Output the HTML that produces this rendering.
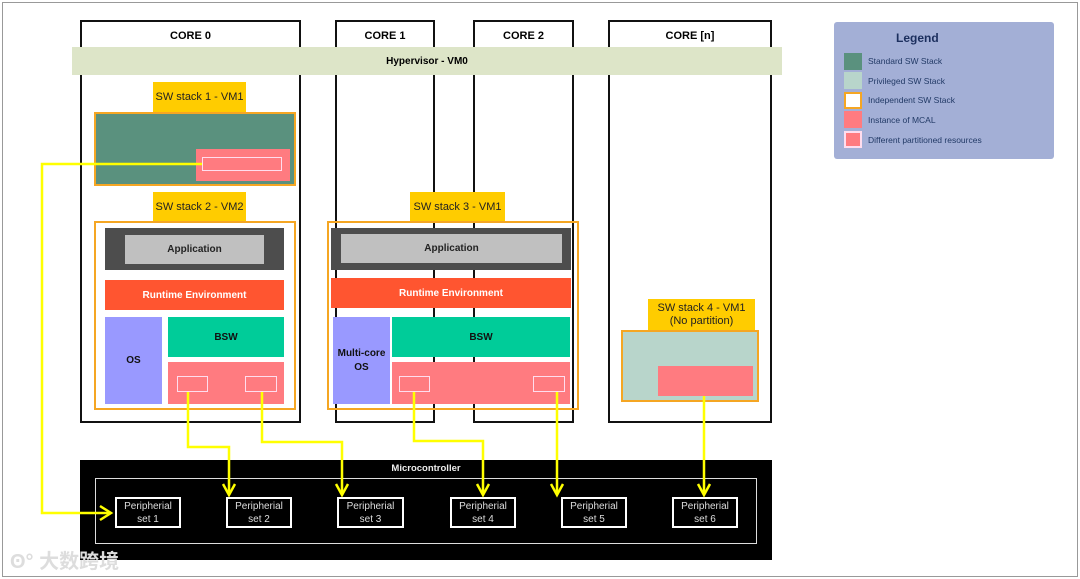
<!DOCTYPE html>
<html><head><meta charset="utf-8"><style>
body{margin:0;width:1080px;height:579px;background:#fff;position:relative;overflow:hidden;font-family:"Liberation Sans","Noto Sans CJK SC",sans-serif}
div{position:absolute;box-sizing:border-box}
.c{display:flex;align-items:center;justify-content:center;text-align:center}
.core{border:2px solid #111;border-bottom-width:2px;background:transparent;font-weight:bold;font-size:11px;justify-content:center}
.core span{position:absolute;top:8px;left:0;right:0;text-align:center}
.lab{background:#ffcc00;font-size:11px;color:#222;line-height:13px}
.b{font-weight:bold;font-size:10px}
.per{border:2px solid #fff;color:#ddd;font-size:10px;line-height:13px;background:#000}
.lg{left:844px;width:18px;height:17px}
.lt{left:868px;font-size:8.5px;color:#223a66}
</style></head><body>
<div style="left:2px;top:2px;width:1076px;height:575px;border:1px solid #999"></div>
<div class="core" style="left:80px;top:20px;width:221px;height:403px"><span>CORE 0</span></div>
<div class="core" style="left:335px;top:20px;width:100px;height:403px"><span>CORE 1</span></div>
<div class="core" style="left:473px;top:20px;width:101px;height:403px"><span>CORE 2</span></div>
<div class="core" style="left:608px;top:20px;width:164px;height:403px"><span>CORE [n]</span></div>
<div class="c b" style="left:72px;top:47px;width:710px;height:28px;background:#dde5c8;font-size:10px">Hypervisor - VM0</div>

<div class="c lab" style="left:153px;top:82px;width:93px;height:30px">SW stack 1 - VM1</div>
<div style="left:94px;top:112px;width:202px;height:74px;background:#5a917e;border:2px solid #f5a623"></div>
<div style="left:196px;top:149px;width:94px;height:32px;background:#ff7b80"></div>
<div style="left:202px;top:157px;width:80px;height:14px;border:1.5px solid #fde"></div>

<div class="c lab" style="left:153px;top:192px;width:93px;height:30px">SW stack 2 - VM2</div>
<div style="left:94px;top:221px;width:202px;height:189px;border:2px solid #f5a623"></div>
<div style="left:105px;top:228px;width:179px;height:42px;background:#4d4d4d"></div>
<div class="c b" style="left:125px;top:235px;width:139px;height:29px;background:#c0c0c0;color:#222">Application</div>
<div class="c b" style="left:105px;top:280px;width:179px;height:30px;background:#ff5530;color:#fff">Runtime Environment</div>
<div class="c b" style="left:105px;top:317px;width:57px;height:87px;background:#9999ff;color:#111">OS</div>
<div class="c b" style="left:168px;top:317px;width:116px;height:40px;background:#00cc99;color:#111">BSW</div>
<div style="left:168px;top:362px;width:116px;height:42px;background:#ff7b80"></div>
<div style="left:177px;top:376px;width:31px;height:16px;border:1.5px solid #fde"></div>
<div style="left:245px;top:376px;width:32px;height:16px;border:1.5px solid #fde"></div>

<div class="c lab" style="left:410px;top:192px;width:95px;height:30px">SW stack 3 - VM1</div>
<div style="left:327px;top:221px;width:252px;height:189px;border:2px solid #f5a623"></div>
<div style="left:331px;top:228px;width:240px;height:42px;background:#4d4d4d"></div>
<div class="c b" style="left:341px;top:234px;width:221px;height:29px;background:#c0c0c0;color:#222">Application</div>
<div class="c b" style="left:331px;top:278px;width:240px;height:30px;background:#ff5530;color:#fff">Runtime Environment</div>
<div class="c b" style="left:333px;top:317px;width:57px;height:87px;background:#9999ff;color:#111;line-height:14px">Multi-core<br>OS</div>
<div class="c b" style="left:392px;top:317px;width:178px;height:40px;background:#00cc99;color:#111">BSW</div>
<div style="left:392px;top:362px;width:178px;height:42px;background:#ff7b80"></div>
<div style="left:399px;top:376px;width:31px;height:16px;border:1.5px solid #fde"></div>
<div style="left:533px;top:376px;width:32px;height:16px;border:1.5px solid #fde"></div>

<div class="c lab" style="left:648px;top:299px;width:107px;height:31px">SW stack 4 - VM1<br>(No partition)</div>
<div style="left:621px;top:330px;width:138px;height:72px;background:#b8d5cb;border:2px solid #f5a623"></div>
<div style="left:658px;top:366px;width:95px;height:30px;background:#ff7b80"></div>

<div style="left:80px;top:460px;width:692px;height:100px;background:#000"></div>
<div class="b" style="left:80px;top:463px;width:692px;text-align:center;color:#eee;font-size:9.5px">Microcontroller</div>
<div style="left:95px;top:478px;width:662px;height:66px;border:1.5px solid #ddd"></div>
<div class="c per" style="left:115px;top:497px;width:66px;height:31px">Peripherial<br>set 1</div>
<div class="c per" style="left:226px;top:497px;width:66px;height:31px">Peripherial<br>set 2</div>
<div class="c per" style="left:337px;top:497px;width:67px;height:31px">Peripherial<br>set 3</div>
<div class="c per" style="left:450px;top:497px;width:66px;height:31px">Peripherial<br>set 4</div>
<div class="c per" style="left:561px;top:497px;width:66px;height:31px">Peripherial<br>set 5</div>
<div class="c per" style="left:672px;top:497px;width:66px;height:31px">Peripherial<br>set 6</div>

<svg style="position:absolute;left:0;top:0" width="1080" height="579">
<g fill="none" stroke="#ffff00" stroke-width="2.5">
<polyline points="202,164 42,164 42,513 110,513"/><polyline points="100,506 111,513 100,520"/>
<polyline points="188,392 188,447 229,447 229,494"/><polyline points="223,484 229,495 235,484"/>
<polyline points="262,392 262,442 342,442 342,494"/><polyline points="336,484 342,495 348,484"/>
<polyline points="414,392 414,441 483,441 483,494"/><polyline points="477,484 483,495 489,484"/>
<polyline points="557,392 557,494"/><polyline points="551,484 557,495 563,484"/>
<polyline points="704,396 704,494"/><polyline points="698,484 704,495 710,484"/>
</g></svg>

<div style="left:834px;top:22px;width:220px;height:137px;background:#a3afd6;border-radius:3px"></div>
<div class="b" style="left:896px;top:31px;font-size:12px;color:#1c2f5e">Legend</div>
<div class="lg" style="top:53px;background:#5a917e"></div><div class="lt" style="top:56px">Standard SW Stack</div>
<div class="lg" style="top:72px;background:#b8d5cb"></div><div class="lt" style="top:76px">Privileged SW Stack</div>
<div class="lg" style="top:92px;background:#fff;border:2px solid #f5a623"></div><div class="lt" style="top:95px">Independent SW Stack</div>
<div class="lg" style="top:111px;background:#ff7b80"></div><div class="lt" style="top:115px">Instance of MCAL</div>
<div class="lg" style="top:131px;background:#ff7b80;border:2px solid #fde"></div><div class="lt" style="top:135px">Different partitioned resources</div>

<div style="left:10px;top:545px;font-size:20px;color:#ddd;font-weight:bold">ʘ° 大数跨境</div>
</body></html>
